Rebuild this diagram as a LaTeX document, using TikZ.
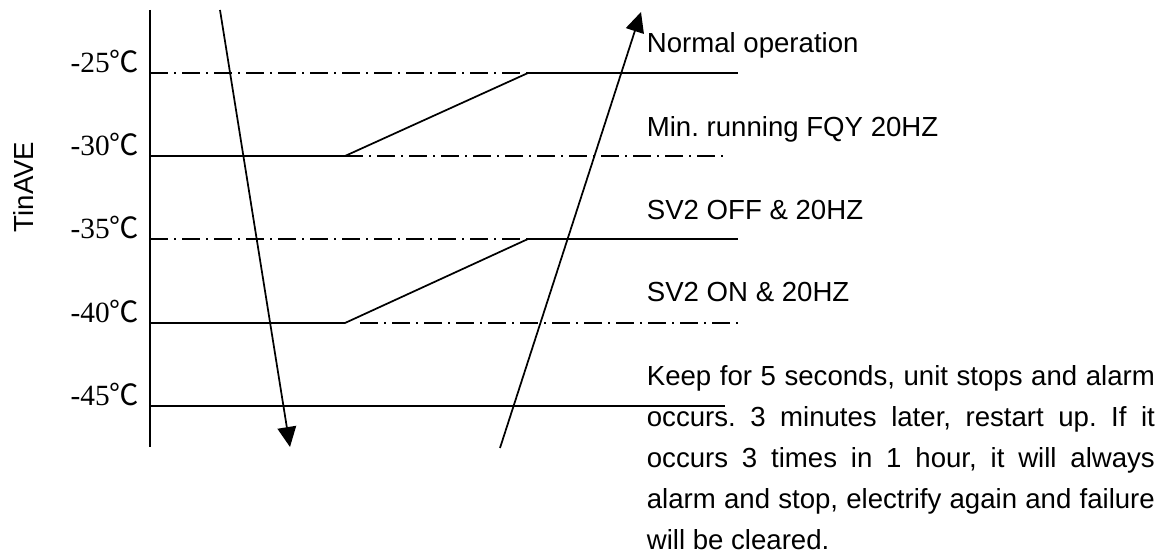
\documentclass[tikz,border=0pt]{standalone}
\usepackage{fontspec}
\setmainfont{Liberation Sans}
\newfontfamily\numfont{Liberation Serif}
\newfontfamily\cjk{Noto Sans CJK SC}
\usetikzlibrary{arrows.meta}
\newcommand{\degC}[1]{{\fontsize{22}{24}\selectfont\numfont #1\cjk ℃}}
\begin{document}
\begin{tikzpicture}[x=0.75pt, y=-0.75pt, line width=1.3pt, line join=round,
    font=\fontsize{20.7}{30.6}\selectfont\frenchspacing, >={Triangle[length=15pt,width=14pt]},
    dashdot/.style={dash pattern=on 13.5pt off 4.5pt on 1.5pt off 4.5pt},
    lbl/.style={anchor=base east, inner sep=0pt},
    txt/.style={anchor=base west, inner sep=0pt}]
	\useasboundingbox (0,0) rectangle (1165,555);
	\coordinate (top) at (150,10);
	\coordinate (bot) at (150,447);
	\draw (top) -- (bot);
	\node[rotate=90] (ylab) at (23,187) {TinAVE};
	\foreach \t/\y in {25/73,30/156,35/239,40/323,45/406}
		\node[lbl] (t\t) at (140,\y) {\degC{-\t}};
	\coordinate (k25) at (528,73);
	\coordinate (k30) at (345,156);
	\coordinate (k35) at (528,239);
	\coordinate (k40) at (345,323);
	\draw[dashdot] (150,73) -- (k25);
	\draw (k25) -- (738,73);
	\draw (150,156) -- (k30) -- (k25);
	\draw[dashdot] (k30) -- (725,156);
	\draw[dashdot] (150,239) -- (k35);
	\draw (k35) -- (738,239);
	\draw (150,323) -- (k40) -- (k35);
	\draw[dashdot] (360,323) -- (738,323);
	\draw (150,406) -- (725,406);
	\draw[->] (220,10) -- (290,447);
	\draw[->] (500,448) -- (641,12);
	\node[txt] (s1) at (646,53) {Normal operation};
	\node[txt] (s2) at (646,137) {Min. running FQY 20HZ};
	\node[txt] (s3) at (646,220) {SV2 OFF \& 20HZ};
	\node[txt] (s4) at (646,302) {SV2 ON \& 20HZ};
	\node[txt, text width=381pt, align=justify] (s5) at (646,386)
		{Keep for 5 seconds, unit stops and alarm\linebreak occurs. 3 minutes later, restart up. If it\linebreak occurs 3 times in 1 hour, it will always\linebreak alarm and stop, electrify again and failure\linebreak will be cleared.};
\end{tikzpicture}
\end{document}
